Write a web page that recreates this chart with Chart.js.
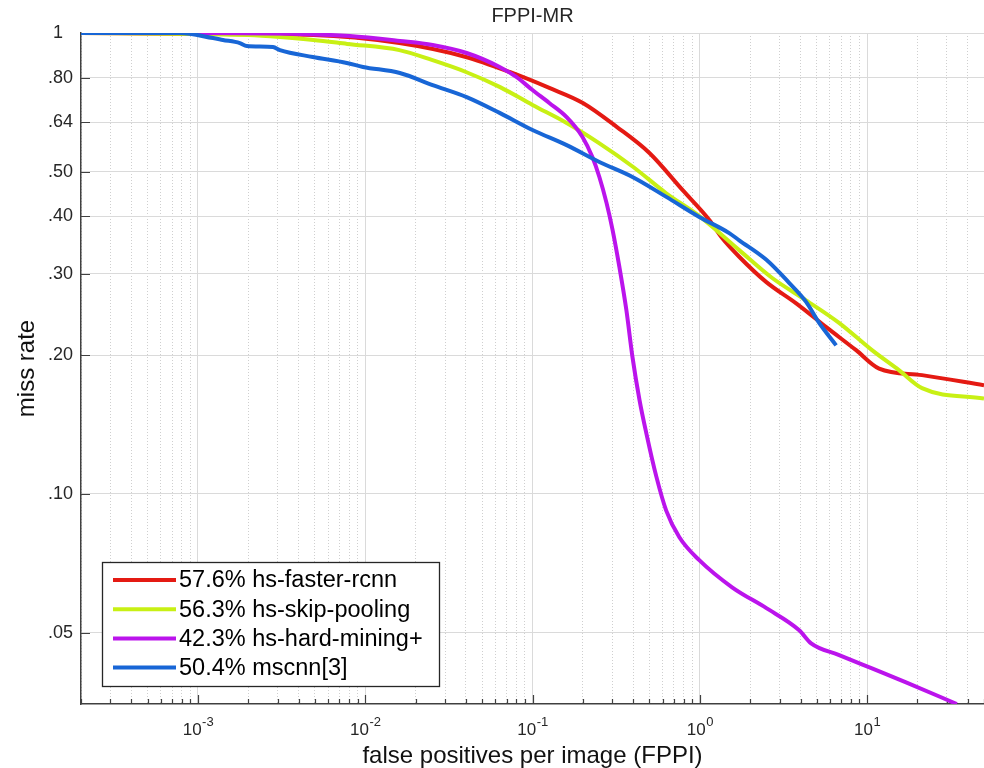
<!DOCTYPE html>
<html>
<head>
<meta charset="utf-8">
<script src="https://cdn.jsdelivr.net/npm/chart.js@4.4.1/dist/chart.umd.min.js"></script>
<style>
  html, body { margin: 0; padding: 0; background: #ffffff; }
  #wrap { width: 984px; height: 768px; position: relative; }
</style>
</head>
<body>
<div id="wrap"><canvas id="c" width="984" height="768"></canvas></div>
<script>
// ---------- data ----------
const seriesLabels = ['57.6% hs-faster-rcnn', '56.3% hs-skip-pooling', '42.3% hs-hard-mining+', '50.4% mscnn[3]'];

const fasterX = [2e-4, 1e-3, 4.9e-3, 0.016, 0.040, 0.073, 0.126, 0.20, 0.32, 0.50, 0.79, 1.14, 1.36, 1.72, 2.5, 3.77, 5.7, 8.6, 11.8, 21.3, 50];
const fasterY = [1.0, 0.995, 0.99, 0.951, 0.887, 0.823, 0.76, 0.705, 0.625, 0.549, 0.456, 0.393, 0.359, 0.327, 0.288, 0.259, 0.23, 0.205, 0.187, 0.181, 0.172];

const skipX = [2e-4, 1e-3, 2e-3, 3.1e-3, 4.9e-3, 7.8e-3, 0.016, 0.025, 0.040, 0.064, 0.10, 0.16, 0.25, 0.40, 0.63, 0.99, 1.72, 2.71, 4.32, 6.8, 10.7, 15.5, 21.3, 50];
const skipY = [1.0, 0.995, 0.99, 0.98, 0.966, 0.947, 0.918, 0.874, 0.823, 0.763, 0.698, 0.638, 0.577, 0.512, 0.449, 0.401, 0.338, 0.294, 0.263, 0.235, 0.205, 0.1855, 0.1696, 0.161];

const hardX = [2e-4, 1e-3, 4.06e-3, 8.1e-3, 0.0161, 0.0253, 0.0404, 0.0636, 0.080, 0.10, 0.126, 0.160, 0.199, 0.228, 0.251, 0.277, 0.301, 0.331, 0.364, 0.396, 0.436, 0.48, 0.55, 0.63, 0.755, 0.993, 1.56, 2.5, 3.93, 4.63, 6.81, 10.7, 17.1, 34.4];
const hardY = [1.0, 1.0, 0.995, 0.985, 0.961, 0.942, 0.905, 0.844, 0.803, 0.752, 0.705, 0.657, 0.595, 0.538, 0.487, 0.428, 0.374, 0.310, 0.2505, 0.198, 0.160, 0.135, 0.109, 0.092, 0.0805, 0.0718, 0.0627, 0.0565, 0.0506, 0.0474, 0.0447, 0.0418, 0.039, 0.035];

const mscnnX = [2e-4, 7.8e-4, 1.23e-3, 1.41e-3, 1.78e-3, 1.96e-3, 2.81e-3, 3.09e-3, 4.86e-3, 7.76e-3, 9.7e-3, 0.0161, 0.0253, 0.0404, 0.0636, 0.10, 0.16, 0.251, 0.396, 0.631, 0.993, 1.5, 1.72, 2.5, 3.42, 4.32, 5.17, 6.53];
const mscnnY = [1.0, 1.0, 0.975, 0.966, 0.951, 0.937, 0.932, 0.918, 0.887, 0.861, 0.844, 0.819, 0.771, 0.726, 0.671, 0.616, 0.571, 0.525, 0.487, 0.441, 0.399, 0.368, 0.355, 0.322, 0.287, 0.261, 0.235, 0.210];

// ---------- ticks ----------
const xMajorTicks = [1e-3, 1e-2, 1e-1, 1, 10];
const xMajorBase = ['10', '10', '10', '10', '10'];
const xMajorExp = ['-3', '-2', '-1', '0', '1'];
const xMinorMultipliers = [2, 3, 4, 5, 6, 7, 8, 9];
const xDecades = [1e-4, 1e-3, 1e-2, 1e-1, 1, 10];
const yTicks = [0.05, 0.10, 0.20, 0.30, 0.40, 0.50, 0.64, 0.80, 1];
const yTickLabels = ['.05', '.10', '.20', '.30', '.40', '.50', '.64', '.80', '1  '];
const xMin = 2e-4, xMax = 50, yMin = 0.035, yMax = 1;

// ---------- styles ----------
const colors = ['#e41a13', '#c8f014', '#bb14ec', '#1866d6'];
const FONT = '"Liberation Sans", Arial, Helvetica, sans-serif';
const TXT = '#262626';

const near = (a, b) => Math.abs(Math.log10(a) - Math.log10(b)) < 1e-6;
const majorIndex = v => xMajorTicks.findIndex(m => near(m, v));
const isMajorX = v => majorIndex(v) >= 0;

const xTickValues = [];
xDecades.forEach(d => {
  [1].concat(xMinorMultipliers).forEach(m => {
    const v = +(m * d).toPrecision(6);
    if (v >= xMin * 0.999999 && v <= xMax * 1.000001) xTickValues.push(v);
  });
});

const toPts = (xs, ys) => xs.map((x, i) => ({ x: x, y: ys[i] }));

const seriesX = [fasterX, skipX, hardX, mscnnX];
const seriesY = [fasterY, skipY, hardY, mscnnY];
const drawOrder = [4, 3, 2, 1];

const datasets = seriesLabels.map((lab, i) => ({
  label: lab,
  data: toPts(seriesX[i], seriesY[i]),
  borderColor: colors[i],
  backgroundColor: colors[i],
  borderWidth: 4,
  pointRadius: 0,
  fill: false,
  cubicInterpolationMode: 'monotone',
  order: drawOrder[i],
  borderJoinStyle: 'round',
  borderCapStyle: 'butt'
}));

// inside tick marks (MATLAB style), placed from the scales
const insideTicks = {
  id: 'insideTicks',
  beforeDatasetsDraw(chart) {
    const { ctx, chartArea: a, scales: { x, y } } = chart;
    ctx.save();
    ctx.strokeStyle = '#404040';
    ctx.lineWidth = 1.2;
    ctx.beginPath();
    x.ticks.forEach(t => {
      const px = Math.round(x.getPixelForValue(t.value)) + 0.5;
      const len = isMajorX(t.value) ? 9 : 5;
      ctx.moveTo(px, a.bottom);
      ctx.lineTo(px, a.bottom - len);
    });
    y.ticks.forEach(t => {
      const py = Math.round(y.getPixelForValue(t.value)) + 0.5;
      ctx.moveTo(a.left, py);
      ctx.lineTo(a.left + 9, py);
    });
    ctx.stroke();
    ctx.restore();
  }
};

// decade labels with superscript exponents, placed at the x scale's tick pixels
const powerLabels = {
  id: 'powerLabels',
  afterDraw(chart) {
    const { ctx, chartArea: a, scales: { x } } = chart;
    ctx.save();
    ctx.fillStyle = TXT;
    ctx.textBaseline = 'alphabetic';
    ctx.textAlign = 'left';
    x.ticks.forEach(t => {
      const idx = majorIndex(t.value);
      if (idx < 0) return;
      const px = x.getPixelForValue(t.value);
      const base = xMajorBase[idx], ex = xMajorExp[idx];
      ctx.font = '17px ' + FONT;
      const wb = ctx.measureText(base).width;
      ctx.font = '13px ' + FONT;
      const we = ctx.measureText(ex).width;
      const x0 = px - (wb + we) / 2;
      ctx.font = '17px ' + FONT;
      ctx.fillText(base, x0, a.bottom + 31);
      ctx.font = '13px ' + FONT;
      ctx.fillText(ex, x0 + wb + 0.5, a.bottom + 22);
    });
    ctx.restore();
  }
};

// legend box inside the plot (lower left)
const insideLegend = {
  id: 'insideLegend',
  afterDraw(chart) {
    const { ctx } = chart;
    const bx = 102, by = 562, bw = 337, bh = 124;
    ctx.save();
    ctx.fillStyle = '#ffffff';
    ctx.fillRect(bx, by, bw, bh);
    ctx.strokeStyle = '#262626';
    ctx.lineWidth = 1.3;
    ctx.strokeRect(bx + 0.5, by + 0.5, bw, bh);
    ctx.font = '23.5px ' + FONT;
    ctx.textBaseline = 'middle';
    ctx.textAlign = 'left';
    chart.data.datasets.forEach((ds, i) => {
      const cy = 580 + i * 29.2;
      ctx.strokeStyle = ds.borderColor;
      ctx.lineWidth = 4;
      ctx.beginPath();
      ctx.moveTo(113, cy);
      ctx.lineTo(176, cy);
      ctx.stroke();
      ctx.fillStyle = '#000000';
      ctx.fillText(ds.label, 179, cy + 1);
    });
    ctx.restore();
  }
};

Chart.defaults.font.family = FONT;
Chart.defaults.color = TXT;

new Chart(document.getElementById('c'), {
  type: 'line',
  data: { datasets: datasets },
  options: {
    responsive: false,
    animation: false,
    devicePixelRatio: 1,
    layout: { padding: 0 },
    plugins: {
      legend: { display: false },
      tooltip: { enabled: false },
      title: {
        display: true,
        text: 'FPPI-MR',
        color: TXT,
        fullSize: false,
        font: { family: FONT, size: 20, weight: 'normal', lineHeight: 1.2 },
        padding: { top: 4.4, bottom: 4.6 }
      }
    },
    scales: {
      x: {
        type: 'logarithmic',
        position: 'bottom',
        min: xMin,
        max: xMax,
        afterBuildTicks: s => { s.ticks = xTickValues.map(v => ({ value: v, major: isMajorX(v) })); },
        afterFit: s => { s.height = 64; s.paddingLeft = 0; s.paddingRight = 0; },
        ticks: {
          autoSkip: false,
          maxRotation: 0,
          minRotation: 0,
          padding: 14,
          color: TXT,
          font: { family: FONT, size: 17 },
          callback: () => ''
        },
        grid: {
          drawTicks: false,
          lineWidth: 1,
          color: ctx => (ctx.tick && isMajorX(ctx.tick.value)) ? '#dadada' : '#cfcfcf'
        },
        border: {
          display: true,
          color: '#404040',
          width: 1.5,
          dash: ctx => (ctx.tick && !isMajorX(ctx.tick.value)) ? [1, 2] : []
        },
        title: {
          display: true,
          text: 'false positives per image (FPPI)',
          color: '#111111',
          font: { family: FONT, size: 24, lineHeight: 1 },
          padding: { top: 0, bottom: 0 }
        }
      },
      y: {
        type: 'logarithmic',
        position: 'left',
        min: yMin,
        max: yMax,
        afterBuildTicks: s => { s.ticks = yTicks.map(v => ({ value: v })); },
        afterFit: s => { s.width = 81; s.paddingTop = 0; s.paddingBottom = 0; },
        ticks: {
          autoSkip: false,
          padding: 8,
          color: TXT,
          font: { family: FONT, size: 18 },
          callback: function (v) {
            const idx = yTicks.findIndex(t => near(t, v));
            return idx >= 0 ? yTickLabels[idx] : '';
          }
        },
        grid: { drawTicks: false, lineWidth: 1, color: '#dadada' },
        border: { display: true, color: '#404040', width: 1.5 },
        title: {
          display: true,
          text: 'miss rate',
          color: '#111111',
          font: { family: FONT, size: 24, lineHeight: 1 },
          padding: { top: 15, bottom: 0 }
        }
      }
    }
  },
  plugins: [insideTicks, powerLabels, insideLegend]
});
</script>
</body>
</html>
